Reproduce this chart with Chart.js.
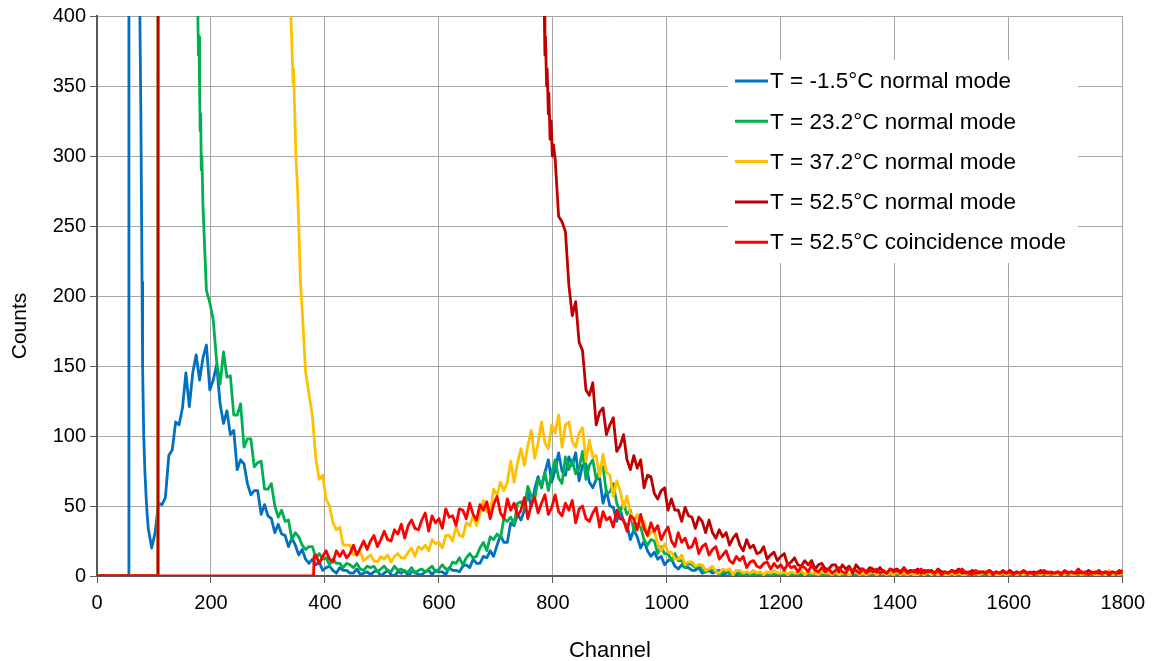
<!DOCTYPE html>
<html>
<head>
<meta charset="utf-8">
<script src="https://cdn.jsdelivr.net/npm/chart.js@4.4.1/dist/chart.umd.min.js"></script>
<style>
  html, body { margin: 0; padding: 0; background: #fff; }
  #wrap { width: 1153px; height: 661px; }
</style>
</head>
<body>
<div id="wrap"><canvas id="spectra"></canvas></div>
<script>
// channel spacing of the sampled counts
const STEP = 6;

const seriesLabels = [
    'T = -1.5°C normal mode',
    'T = 23.2°C normal mode',
    'T = 37.2°C normal mode',
    'T = 52.5°C normal mode',
    'T = 52.5°C coincidence mode'
];
const seriesColors = ['#0070C0', '#00B050', '#FFC000', '#C00000', '#FF0000'];

const xTicks = [0, 200, 400, 600, 800, 1000, 1200, 1400, 1600, 1800];
const yTicks = [0, 50, 100, 150, 200, 250, 300, 350, 400];
const xTitle = 'Channel';
const yTitle = 'Counts';

// [channel, counts] around the steep edges, then counts every STEP channels
const blueEdge = [[0, 0], [55, 0], [56, 3000], [70, 2000], [75, 410], [77, 330], [79, 210], [80, 150], [82, 100], [84, 75], [86, 58], [88, 44]];
const blueStart = 90;
const blueCounts = [
    34, 20, 31, 52, 51, 56, 86, 90, 110, 108,
    120, 145, 121, 145, 158, 140, 156, 165, 133, 140,
    151, 123, 109, 118, 101, 104, 76, 83, 80, 66,
    58, 61, 61, 44, 51, 43, 41, 31, 37, 30,
    29, 21, 27, 22, 15, 19, 12, 9, 12, 8,
    10, 4, 6, 7, 4, 2, 6, 4, 4, 2,
    2, 5, 1, 2, 3, 1, 3, 4, 0, 2,
    4, 1, 0, 3, 2, 4, 0, 3, 3, 1,
    1, 3, 4, 1, 4, 3, 3, 1, 6, 4,
    4, 3, 7, 8, 6, 12, 9, 9, 14, 13,
    18, 14, 22, 29, 24, 24, 38, 36, 44, 40,
    47, 60, 49, 62, 71, 63, 74, 83, 67, 76,
    88, 75, 72, 85, 79, 88, 68, 79, 80, 67,
    63, 69, 70, 52, 61, 50, 49, 39, 48, 39,
    36, 26, 33, 28, 20, 25, 18, 14, 17, 12,
    14, 8, 11, 12, 7, 5, 8, 6, 6, 4,
    4, 6, 2, 3, 4, 2, 3, 4, 1, 2,
    3, 1, 1, 2, 1, 2, 0, 1, 2, 0,
    0, 1, 0, 1, 2, 0, 1, 0, 1, 0,
    1, 0, 0, 1, 0, 2, 1, 0, 1, 0,
    0, 1, 0, 0, 1, 0, 1, 0, 2, 0,
    1, 0, 1, 0, 0, 1, 0, 1, 0, 1,
    0, 0, 1, 0, 1, 0, 2, 0, 1, 0,
    1, 0, 1, 0, 0, 1, 0, 0, 1, 0,
    0, 1, 0, 2, 0, 1, 0, 1, 0, 0,
    1, 0, 1, 0, 1, 0, 0, 1, 0, 1,
    0, 1, 0, 0, 1, 0, 1, 0, 0, 2,
    1, 0, 1, 0, 0, 1, 0, 1, 0, 1,
    0, 1, 0, 1, 0, 0, 1, 0, 1, 0
];

const greenEdge = [[0, 0], [107, 0], [108, 3000], [170, 600], [177, 400], [178, 372], [179, 385], [180, 350], [181, 318], [182, 330], [183, 290], [184, 300]];
const greenStart = 186;
const greenCounts = [
    264, 204, 195, 183, 153, 137, 160, 142, 143, 115,
    115, 123, 92, 98, 98, 78, 81, 82, 62, 62,
    66, 50, 42, 47, 39, 40, 26, 31, 28, 22,
    19, 21, 21, 13, 16, 12, 13, 8, 12, 9,
    9, 6, 9, 8, 6, 9, 5, 4, 7, 6,
    7, 3, 5, 7, 4, 3, 7, 4, 5, 3,
    3, 6, 2, 4, 5, 3, 5, 7, 3, 5,
    8, 5, 5, 10, 9, 13, 8, 13, 16, 13,
    14, 20, 24, 18, 28, 26, 30, 27, 41, 39,
    42, 37, 52, 53, 48, 64, 57, 55, 69, 64,
    74, 61, 74, 83, 70, 66, 85, 76, 83, 73,
    77, 89, 69, 79, 83, 69, 75, 78, 59, 60,
    66, 52, 46, 52, 44, 47, 32, 37, 35, 26,
    22, 26, 25, 16, 21, 16, 16, 11, 16, 11,
    11, 6, 9, 8, 6, 8, 4, 3, 5, 4,
    4, 1, 3, 4, 1, 0, 4, 1, 2, 0,
    1, 0, 2, 1, 0, 1, 0, 1, 2, 0,
    1, 0, 1, 0, 1, 2, 0, 1, 0, 1,
    0, 1, 1, 0, 2, 0, 1, 0, 1, 0,
    2, 1, 0, 1, 0, 1, 0, 2, 1, 0,
    1, 0, 1, 0, 1, 0, 1, 0, 0, 2,
    0, 1, 0, 1, 2, 0, 1, 0, 1, 0,
    1, 2, 0, 1, 0, 1, 0, 1, 0, 1,
    0, 1, 0, 2, 1, 0, 1, 0, 1, 0,
    1, 0, 1, 0, 0, 1, 2, 0, 1, 0,
    1, 0, 2, 0, 1, 0, 1, 0, 1, 0,
    0, 1, 0, 1, 0, 2, 1, 0, 1, 0,
    1, 0
];

const yellowEdge = [[0, 0], [107, 0], [108, 3000], [300, 800], [338, 420], [342, 380], [344, 352], [345, 362], [347, 330], [349, 300], [352, 276], [354, 250], [357, 210]];
const yellowStart = 360;
const yellowCounts = [
    191, 146, 130, 114, 84, 69, 72, 55, 50, 38,
    33, 35, 22, 22, 22, 15, 16, 17, 11, 13,
    15, 11, 10, 14, 12, 15, 10, 14, 16, 13,
    13, 17, 20, 14, 21, 19, 22, 18, 26, 23,
    24, 20, 29, 29, 25, 35, 29, 28, 38, 36,
    43, 36, 45, 54, 46, 45, 62, 58, 67, 61,
    67, 82, 67, 81, 91, 79, 93, 104, 84, 95,
    110, 95, 91, 108, 102, 115, 92, 108, 110, 96,
    92, 102, 106, 82, 97, 85, 86, 71, 87, 74,
    72, 57, 68, 61, 49, 57, 45, 39, 44, 37,
    39, 28, 31, 32, 23, 18, 23, 17, 17, 12,
    12, 15, 8, 10, 10, 7, 8, 8, 4, 5,
    7, 3, 2, 5, 4, 5, 1, 4, 4, 2,
    3, 2, 4, 2, 3, 1, 3, 2, 4, 2,
    2, 3, 1, 3, 2, 2, 4, 1, 3, 2,
    2, 1, 3, 2, 2, 1, 3, 1, 2, 2,
    1, 2, 3, 1, 2, 1, 2, 3, 1, 2,
    2, 1, 2, 1, 3, 1, 2, 1, 2, 1,
    1, 2, 1, 3, 1, 2, 1, 2, 1, 1,
    2, 1, 2, 1, 1, 3, 1, 2, 1, 2,
    4, 1, 2, 1, 1, 2, 1, 2, 1, 1,
    2, 1, 3, 1, 1, 2, 1, 2, 1, 2,
    1, 1, 2, 1, 3, 1, 1, 2, 1, 2,
    1, 2, 1, 1, 2, 1, 4, 1, 2, 1,
    2, 1
];

const darkRedEdge = [[0, 0], [107, 0], [108, 3000], [500, 1500], [780, 460], [785, 400], [786, 372], [787, 385], [789, 350], [790, 362], [792, 330], [793, 345], [795, 312], [797, 325], [799, 300], [801, 308]];
const darkRedStart = 804;
const darkRedCounts = [
    298, 257, 253, 246, 208, 186, 196, 167, 161, 133,
    129, 138, 108, 117, 120, 101, 108, 113, 89, 93,
    101, 83, 76, 86, 77, 83, 63, 72, 71, 59,
    55, 61, 63, 47, 55, 47, 47, 39, 49, 43,
    42, 34, 42, 39, 31, 40, 31, 27, 33, 28,
    31, 22, 27, 30, 22, 18, 26, 20, 22, 16,
    17, 21, 12, 15, 17, 11, 14, 16, 8, 10,
    13, 8, 7, 11, 8, 11, 5, 8, 9, 5,
    5, 8, 8, 3, 8, 5, 7, 2, 8, 5,
    5, 3, 6, 5, 3, 6, 3, 2, 5, 4,
    5, 3, 6, 3, 4, 3, 5, 2, 4, 3,
    4, 2, 5, 3, 3, 2, 4, 3, 5, 2,
    3, 2, 4, 2, 3, 3, 2, 4, 2, 3,
    2, 3, 2, 4, 2, 3, 2, 3, 2, 2,
    3, 2, 4, 2, 3, 2, 2, 3, 2, 3,
    2, 3, 2, 2, 3, 2, 4, 2, 3, 2,
    2, 3, 2, 3, 2, 2, 4, 2
];

const redEdge = [[0, 0], [380, 0], [381, 14]];
const redStart = 384;
const redCounts = [
    15, 9, 14, 18, 12, 10, 18, 14, 18, 13,
    16, 22, 15, 20, 25, 19, 25, 29, 21, 26,
    32, 26, 25, 33, 30, 37, 27, 36, 40, 34,
    33, 40, 45, 32, 43, 38, 41, 34, 48, 42,
    43, 36, 48, 47, 41, 52, 44, 40, 51, 47,
    53, 41, 51, 57, 45, 41, 55, 47, 52, 43,
    47, 56, 41, 51, 56, 45, 52, 58, 44, 49,
    58, 46, 43, 52, 47, 54, 38, 48, 50, 41,
    39, 45, 49, 35, 46, 40, 42, 35, 47, 41,
    40, 32, 43, 41, 33, 44, 34, 29, 38, 32,
    36, 26, 31, 35, 25, 21, 31, 24, 27, 20,
    21, 27, 16, 21, 23, 15, 19, 21, 12, 15,
    18, 11, 9, 14, 11, 14, 6, 10, 11, 7,
    6, 9, 10, 5, 9, 6, 8, 4, 9, 6,
    7, 3, 7, 6, 3, 8, 4, 3, 6, 3,
    5, 2, 4, 6, 3, 2, 6, 4, 4, 2,
    5, 2, 4, 3, 5, 2, 4, 2, 5, 3,
    4, 2, 5, 2, 3, 4, 2, 5, 2, 4,
    3, 2, 4, 1, 3, 2, 4, 2, 3, 5,
    2, 3, 1, 4, 2, 3, 2, 4, 1, 3,
    2, 4, 2, 3, 1, 3, 2, 4, 2, 3,
    1, 3, 2, 4, 2, 3, 2, 3, 1, 4,
    2, 3, 2, 5, 2, 3, 1, 3, 2, 4,
    2, 3, 1, 3, 2, 4, 2, 3, 2
];

function toPoints(edge, start, counts) {
    const pts = edge.map(p => ({x: p[0], y: p[1]}));
    counts.forEach((c, i) => pts.push({x: start + STEP * i, y: c}));
    return pts;
}

const seriesData = [
    toPoints(blueEdge, blueStart, blueCounts),
    toPoints(greenEdge, greenStart, greenCounts),
    toPoints(yellowEdge, yellowStart, yellowCounts),
    toPoints(darkRedEdge, darkRedStart, darkRedCounts),
    toPoints(redEdge, redStart, redCounts)
];

Chart.defaults.font.family = '"Liberation Sans", Arial, sans-serif';
Chart.defaults.color = '#000';

// axis titles and the boxed legend inside the plot
const overlay = {
    id: 'overlay',
    afterDraw(chart) {
        const ctx = chart.ctx;
        const area = chart.chartArea;
        ctx.save();
        ctx.fillStyle = '#000';
        ctx.font = '22px "Liberation Sans"';
        ctx.textAlign = 'center';
        ctx.textBaseline = 'middle';
        ctx.fillText(xTitle, (area.left + area.right) / 2, 651);
        ctx.save();
        ctx.translate(20, 326);
        ctx.rotate(-Math.PI / 2);
        ctx.font = '21px "Liberation Sans"';
        ctx.fillText(yTitle, 0, 0);
        ctx.restore();

        ctx.fillStyle = '#fff';
        ctx.fillRect(728, 60, 350, 203);
        ctx.font = '22.5px "Liberation Sans"';
        ctx.textAlign = 'left';
        chart.data.datasets.forEach((ds, i) => {
            const y = 81 + i * 40.3;
            ctx.strokeStyle = ds.borderColor;
            ctx.lineWidth = 3;
            ctx.beginPath();
            ctx.moveTo(735, y);
            ctx.lineTo(768, y);
            ctx.stroke();
            ctx.fillStyle = '#000';
            ctx.fillText(ds.label, 770, y + 1);
        });
        ctx.restore();
    }
};

const gridStyle = {
    color: '#a6a6a6',
    lineWidth: 1,
    tickLength: 7,
    tickColor: '#595959'
};

new Chart(document.getElementById('spectra'), {
    type: 'line',
    data: {
        datasets: seriesData.map((pts, i) => ({
            label: seriesLabels[i],
            data: pts,
            borderColor: seriesColors[i],
            backgroundColor: seriesColors[i],
            borderWidth: 2.8,
            borderJoinStyle: 'round',
            pointRadius: 0,
            tension: 0,
            fill: false,
            order: seriesData.length - i
        }))
    },
    options: {
        responsive: true,
        maintainAspectRatio: false,
        animation: false,
        parsing: false,
        layout: {padding: {left: 0, top: 16, right: 30, bottom: 0}},
        plugins: {
            legend: {display: false},
            tooltip: {enabled: false}
        },
        scales: {
            x: {
                type: 'linear',
                min: 0,
                max: 1800,
                afterBuildTicks: s => { s.ticks = xTicks.map(v => ({value: v})); },
                afterFit: s => { s.height = 85; },
                ticks: {font: {size: 20}, padding: 8, maxRotation: 0, callback: v => String(v)},
                grid: gridStyle,
                border: {color: '#595959', width: 2}
            },
            y: {
                min: 0,
                max: 400,
                afterBuildTicks: s => { s.ticks = yTicks.map(v => ({value: v})); },
                afterFit: s => { s.width = 97; },
                ticks: {font: {size: 20}, padding: 4, callback: v => String(v)},
                grid: gridStyle,
                border: {color: '#595959', width: 2}
            }
        }
    },
    plugins: [overlay]
});
</script>
</body>
</html>
